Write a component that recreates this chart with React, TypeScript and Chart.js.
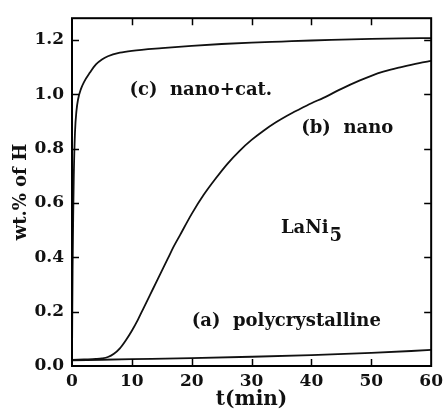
import React, { useEffect, useRef } from "react";
import { Chart, registerables } from "chart.js";

Chart.register(...registerables);

// time (min) and wt.% of H for each curve
const tC = [0, 0.05, 0.1, 0.2, 0.3, 0.5, 0.75, 1, 1.5, 2, 3, 4, 5, 6, 8, 10, 15, 20, 25, 30, 35, 40, 45, 50, 55, 60];
const hC = [0.02, 0.2, 0.35, 0.55, 0.7, 0.86, 0.94, 0.98, 1.02, 1.045, 1.08, 1.11, 1.128, 1.14, 1.153, 1.16, 1.17, 1.178, 1.185, 1.19, 1.194, 1.198, 1.201, 1.204, 1.206, 1.207];

const tB = [0, 2, 4, 5, 6, 7, 8, 9, 10, 11, 12, 13, 14, 15, 16, 17, 18, 20, 22, 24, 26, 28, 30, 32, 34, 36, 38, 40, 42, 45, 48, 50, 52, 55, 58, 60];
const hB = [0.022, 0.024, 0.026, 0.028, 0.033, 0.045, 0.065, 0.095, 0.13, 0.17, 0.215, 0.26, 0.305, 0.35, 0.395, 0.44, 0.48, 0.56, 0.63, 0.69, 0.745, 0.792, 0.832, 0.866, 0.896, 0.922, 0.945, 0.967, 0.987, 1.02, 1.05, 1.068, 1.083, 1.1, 1.115, 1.123];

const tA = [0, 10, 20, 30, 40, 50, 60];
const hA = [0.021, 0.025, 0.029, 0.034, 0.04, 0.048, 0.059];

const xTicks = [0, 10, 20, 30, 40, 50, 60];
const yTicks = [0, 0.2, 0.4, 0.6, 0.8, 1.0, 1.2];

const labelTexts = ["(c)  nano+cat.", "(b)  nano", "(a)  polycrystalline"];
const labelAt = [
  [9.6, 1.013],
  [38.3, 0.876],
  [20.0, 0.166],
];
const compoundText = ["LaNi", "5"];
const compoundAt = [34.9, 0.508];

const toPts = (t: number[], h: number[]) => t.map((x, i) => ({ x, y: h[i] }));

const FONT = '"DejaVu Serif", serif';

const framePlugin = {
  id: "frame",
  afterDatasetsDraw(chart: any) {
    const { ctx, chartArea: a, scales } = chart;
    const xs = scales.x;
    const ys = scales.y;
    ctx.save();
    ctx.strokeStyle = "#000";
    ctx.lineWidth = 2;
    ctx.strokeRect(a.left, a.top, a.right - a.left, a.bottom - a.top);
    ctx.lineWidth = 1.5;
    const L = 7;
    ctx.beginPath();
    xTicks.forEach((v) => {
      if (v === xTicks[0] || v === xTicks[xTicks.length - 1]) return;
      const px = Math.round(xs.getPixelForValue(v)) + 0.5;
      ctx.moveTo(px, a.bottom);
      ctx.lineTo(px, a.bottom - L);
      ctx.moveTo(px, a.top);
      ctx.lineTo(px, a.top + L);
    });
    yTicks.forEach((v) => {
      if (v === 0) return;
      const py = Math.round(ys.getPixelForValue(v)) + 0.5;
      ctx.moveTo(a.left, py);
      ctx.lineTo(a.left + L, py);
      ctx.moveTo(a.right, py);
      ctx.lineTo(a.right - L, py);
    });
    ctx.stroke();

    ctx.fillStyle = "#111";
    ctx.font = "bold 18px " + FONT;
    ctx.textBaseline = "middle";
    ctx.textAlign = "left";
    labelTexts.forEach((s, i) => {
      ctx.fillText(s, xs.getPixelForValue(labelAt[i][0]), ys.getPixelForValue(labelAt[i][1]));
    });
    const cx = xs.getPixelForValue(compoundAt[0]);
    const cy = ys.getPixelForValue(compoundAt[1]);
    ctx.fillText(compoundText[0], cx, cy);
    const w = ctx.measureText(compoundText[0]).width;
    ctx.fillText(compoundText[1], cx + w + 1, cy + 8);
    ctx.restore();
  },
};

export default function App() {
  const ref = useRef<HTMLCanvasElement>(null);
  useEffect(() => {
    if (!ref.current) return;
    const line = { borderColor: "#111", borderWidth: 1.8, pointRadius: 0, cubicInterpolationMode: "monotone" as const, fill: false };
    const chart = new Chart(ref.current, {
      type: "line",
      data: {
        datasets: [
          { label: "(c) nano+cat.", data: toPts(tC, hC), ...line },
          { label: "(b) nano", data: toPts(tB, hB), ...line },
          { label: "(a) polycrystalline", data: toPts(tA, hA), ...line },
        ],
      },
      options: {
        responsive: false,
        animation: false,
        layout: { padding: { left: 0, top: 8, right: 12, bottom: 0 } },
        plugins: { legend: { display: false }, tooltip: { enabled: false } },
        scales: {
          x: {
            type: "linear",
            min: 0,
            max: 60,
            afterFit: (s: any) => {
              s.height = 46;
            },
            afterBuildTicks: (s: any) => {
              s.ticks = xTicks.map((v) => ({ value: v }));
            },
            grid: { display: false, drawTicks: false },
            border: { display: false },
            ticks: {
              padding: 5,
              color: "#111",
              font: { family: FONT, size: 17, weight: "bold" },
              maxRotation: 0,
              callback: (v: any) => String(v),
            },
            title: {
              display: true,
              text: "t(min)",
              color: "#111",
              font: { family: FONT, size: 20, weight: "bold" },
              padding: { top: 0, bottom: 0 },
            },
          },
          y: {
            type: "linear",
            min: 0,
            max: 1.28,
            afterFit: (s: any) => {
              s.width = 72;
            },
            afterBuildTicks: (s: any) => {
              s.ticks = yTicks.map((v) => ({ value: v }));
            },
            grid: { display: false, drawTicks: false },
            border: { display: false },
            ticks: {
              padding: 8,
              color: "#111",
              font: { family: FONT, size: 17, weight: "bold" },
              callback: (v: any) => Number(v).toFixed(1),
            },
            title: {
              display: true,
              text: "wt.% of H",
              color: "#111",
              font: { family: FONT, size: 18, weight: "bold" },
              padding: { top: 11, bottom: 0 },
            },
          },
        },
      },
      plugins: [framePlugin],
    });
    return () => chart.destroy();
  }, []);
  return (
    <div style={{ position: "fixed", left: 0, top: 0, width: 448, height: 412, background: "#fff" }}>
      <canvas ref={ref} width={448} height={412} style={{ display: "block" }} />
    </div>
  );
}
